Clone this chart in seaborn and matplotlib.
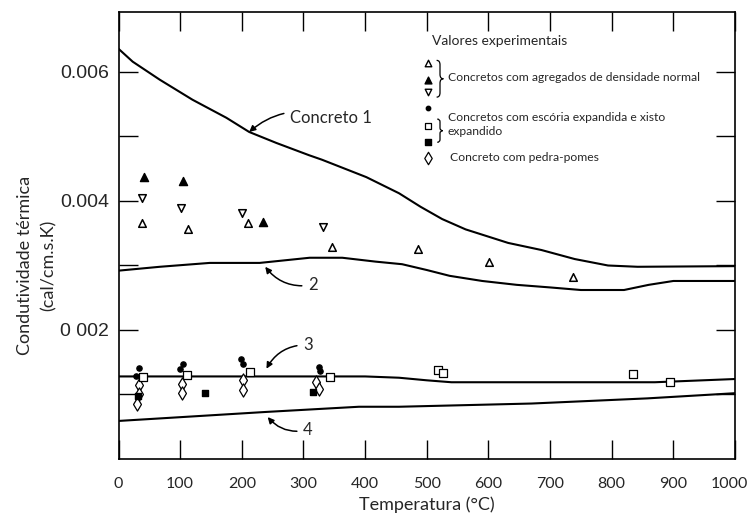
import matplotlib
matplotlib.use("Agg")
import matplotlib.pyplot as plt
from matplotlib.path import Path
from matplotlib.patches import PathPatch
from matplotlib.ticker import FixedLocator
from matplotlib.transforms import ScaledTranslation
import seaborn as sns

# Thermal conductivity curves (cal/cm.s.K) versus temperature (°C)
c1_temp = [0, 23, 67, 120, 175, 212, 256, 309, 330, 402, 455, 490, 525, 563, 632, 686, 740, 794, 842, 1000]
c1_k = [0.00636, 0.00616, 0.00588, 0.00557, 0.00529, 0.00507, 0.00490, 0.00471, 0.00464, 0.00437,
        0.00412, 0.00391, 0.00372, 0.00356, 0.00335, 0.00324, 0.00310, 0.00300, 0.00298, 0.00299]

c2_temp = [0, 67, 148, 229, 310, 363, 417, 460, 500, 537, 590, 646, 700, 750, 820, 860, 900, 1000]
c2_k = [0.00292, 0.00298, 0.00304, 0.00304, 0.00312, 0.00312, 0.00306, 0.00302, 0.00293, 0.00284,
        0.00276, 0.00270, 0.00266, 0.00262, 0.00262, 0.00270, 0.00276, 0.00276]

c3_temp = [0, 400, 455, 500, 540, 870, 1000]
c3_k = [0.00128, 0.00128, 0.00126, 0.00122, 0.00119, 0.00119, 0.00124]

c4_temp = [0, 240, 390, 455, 670, 858, 1000]
c4_k = [0.00059, 0.00073, 0.00081, 0.00081, 0.00086, 0.00094, 0.00102]

# Experimental values - normal-weight aggregate concretes
up_open_temp = [38, 113, 210, 346, 486, 601, 737]
up_open_k = [0.00366, 0.00357, 0.00366, 0.00329, 0.00326, 0.00305, 0.00282]
up_filled_temp = [41, 105, 234]
up_filled_k = [0.00437, 0.00431, 0.00367]
down_open_temp = [38, 101, 200, 331]
down_open_k = [0.00405, 0.00389, 0.00381, 0.00360]

# Expanded slag and expanded shale concretes
dot_temp = [33, 28, 104, 99, 199, 202, 326, 327]
dot_k = [0.00141, 0.00128, 0.00148, 0.00139, 0.00155, 0.00148, 0.00142, 0.00136]
sq_open_temp = [39, 111, 214, 343, 518, 526, 835, 895]
sq_open_k = [0.00127, 0.00130, 0.00135, 0.00127, 0.00138, 0.00133, 0.00132, 0.00119]
sq_filled_temp = [32, 140, 315]
sq_filled_k = [0.00097, 0.00103, 0.00104]

# Pumice concrete
dia_temp = [33, 33, 30, 103, 103, 202, 202, 321, 326]
dia_k = [0.00114, 0.00101, 0.00086, 0.00117, 0.00102, 0.00122, 0.00107, 0.00119, 0.00108]

x_ticks = [0, 100, 200, 300, 400, 500, 600, 700, 800, 900, 1000]
y_ticks = [0.002, 0.004, 0.006]
y_minor = [0.001, 0.003, 0.005]
y_tick_labels = ["0 002", "0.004", "0.006"]

sns.set_theme(style="ticks")
plt.rcParams["font.family"] = ["Lato", "DejaVu Sans"]

W, H = 749, 515
fig = plt.figure(figsize=(W / 100, H / 100), dpi=100)
L, R, T, B = 118.5, 735, 12, 459
ax = fig.add_axes([L / W, 1 - B / H, (R - L) / W, (B - T) / H])

for xs, ys in [(c1_temp, c1_k), (c2_temp, c2_k), (c3_temp, c3_k), (c4_temp, c4_k)]:
    sns.lineplot(x=xs, y=ys, ax=ax, color="black", lw=1.5, estimator=None, sort=False)

def pts(xs, ys, marker, size, face, lw=1.0):
    sns.scatterplot(x=xs, y=ys, ax=ax, marker=marker, s=size, color=face,
                    edgecolor="black", linewidth=lw, zorder=4)

pts(up_open_temp, up_open_k, "^", 30, "white", 1.1)
pts(up_filled_temp, up_filled_k, "^", 34, "black")
pts(down_open_temp, down_open_k, "v", 30, "white", 1.1)
pts(dia_temp, dia_k, "d", 45, "white", 0.9)
pts(dot_temp, dot_k, "o", 14, "black")
pts(sq_open_temp, sq_open_k, "s", 26, "white", 0.9)
pts(sq_filled_temp, sq_filled_k, "s", 18, "black")

ax.set_xlim(0, 1000)
ax.set_ylim(0, 0.00693)
ax.xaxis.set_major_locator(FixedLocator(x_ticks))
ax.yaxis.set_major_locator(FixedLocator(y_ticks))
ax.yaxis.set_minor_locator(FixedLocator(y_minor))
ax.set_yticklabels(y_tick_labels)
ax.tick_params(which="both", direction="in", length=14, width=1, color="black",
               top=True, right=True)
ax.tick_params(axis="x", pad=13, labelsize=11.5)
ax.tick_params(axis="y", pad=7, labelsize=14, labelfontfamily="Liberation Sans")
for s in ax.spines.values():
    s.set_linewidth(1.2)
    s.set_color("black")

# keep the last temperature label inside the figure edge
fig.canvas.draw()
last = ax.get_xticklabels()[-1]
last.set_transform(last.get_transform() + ScaledTranslation(-6 / 100, 0, fig.dpi_scale_trans))

ax.set_xlabel("Temperatura (°C)", fontsize=13, labelpad=4)
ax.set_ylabel("Condutividade térmica\n(cal/cm.s.K)", fontsize=13, linespacing=1.6)
ax.yaxis.label.set_va("center")
ax.yaxis.set_label_coords(-0.132, 0.434)

arrow = dict(arrowstyle="-|>", color="black", lw=1.1, mutation_scale=9, shrinkA=2, shrinkB=0)
ax.annotate("Concreto 1", xy=(212, 0.00507), xytext=(278, 0.00529), fontsize=12,
            ha="left", va="center", arrowprops=dict(arrow, connectionstyle="arc3,rad=0.3"))
ax.annotate("2", xy=(238, 0.00298), xytext=(315, 0.0027), fontsize=12,
            ha="center", va="center", arrowprops=dict(arrow, connectionstyle="arc3,rad=-0.3"))
ax.annotate("3", xy=(240, 0.00140), xytext=(307, 0.00177), fontsize=12,
            ha="center", va="center", arrowprops=dict(arrow, connectionstyle="arc3,rad=0.3"))
ax.annotate("4", xy=(242, 0.00065), xytext=(307, 0.00045), fontsize=12,
            ha="center", va="center", arrowprops=dict(arrow, connectionstyle="arc3,rad=-0.3"))

# Key of experimental symbols
ax.text(508, 0.00648, "Valores experimentais", fontsize=10, ha="left", va="center")
key_x = 502
ax.scatter([key_x], [0.00614], marker="^", s=22, c="white", edgecolors="black", linewidths=1.0, zorder=4)
ax.scatter([key_x], [0.00588], marker="^", s=24, c="black", edgecolors="black", zorder=4)
ax.scatter([key_x], [0.00569], marker="v", s=22, c="white", edgecolors="black", linewidths=1.0, zorder=4)
ax.scatter([key_x], [0.00544], marker="o", s=10, c="black", zorder=4)
ax.scatter([key_x], [0.00516], marker="s", s=20, c="white", edgecolors="black", linewidths=0.9, zorder=4)
ax.scatter([key_x], [0.00491], marker="s", s=16, c="black", zorder=4)
ax.scatter([key_x], [0.00467], marker="d", s=40, c="white", edgecolors="black", linewidths=0.9, zorder=4)

ax.text(534, 0.00592, "Concretos com agregados de densidade normal", fontsize=8.7, ha="left", va="center")
ax.text(534, 0.00529, "Concretos com escória expandida e xisto", fontsize=8.7, ha="left", va="center")
ax.text(534, 0.00507, "expandido", fontsize=8.7, ha="left", va="center")
ax.text(537, 0.00468, "Concreto com pedra-pomes", fontsize=8.7, ha="left", va="center")

def brace(x0, x1, ytop, ybot):
    xm = (x0 + x1) / 2
    ymid = (ytop + ybot) / 2
    r = (ytop - ybot) * 0.12
    verts = [(x0, ytop), (xm, ytop), (xm, ytop - r),
             (xm, ymid + r), (xm, ymid), (x1, ymid),
             (xm, ymid), (xm, ymid - r),
             (xm, ybot + r), (xm, ybot), (x0, ybot)]
    codes = [Path.MOVETO, Path.CURVE3, Path.CURVE3,
             Path.LINETO, Path.CURVE3, Path.CURVE3,
             Path.CURVE3, Path.CURVE3,
             Path.LINETO, Path.CURVE3, Path.CURVE3]
    ax.add_patch(PathPatch(Path(verts, codes), fill=False, lw=0.9, ec="black"))

brace(516, 527, 0.00618, 0.00561)
brace(517, 526, 0.00527, 0.00491)

fig.savefig("out.png", dpi=100, facecolor="white")
